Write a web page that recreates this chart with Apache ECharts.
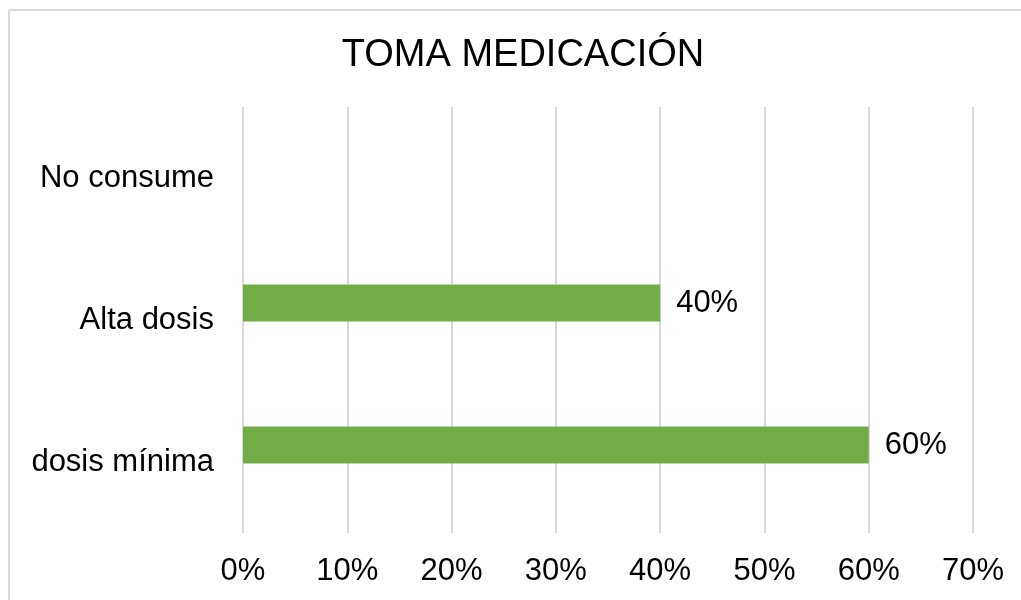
<!DOCTYPE html>
<html>
<head>
<meta charset="utf-8">
<script src="https://cdn.jsdelivr.net/npm/echarts@6/dist/echarts.min.js"></script>
<style>
  html, body { margin: 0; padding: 0; background: #fff; }
  #chart { width: 1021px; height: 600px; }
</style>
</head>
<body>
<div id="chart"></div>
<script>
// categorias (de abajo hacia arriba, como en el eje)
var categorias = ['dosis mínima', 'Alta dosis', 'No consume'];
// porcentaje que toma medicación
var porcentajes = [60, 40, '-'];
// serie vacía que ocupa el segundo hueco de cada grupo
var serieVacia = ['-', '-', '-'];
// marcas del eje x
var ejeMin = 0;
var ejeMax = 70;
var ejePaso = 10;

var chart = echarts.init(document.getElementById('chart'));
var fuente = 'Liberation Sans, Arial, sans-serif';

chart.setOption({
  animation: false,
  backgroundColor: '#fff',
  title: {
    text: 'TOMA MEDICACIÓN',
    left: 518,
    top: 32,
    textAlign: 'center',
    textStyle: { fontFamily: fuente, fontSize: 38, fontWeight: 'normal', color: '#000' }
  },
  // borde del área del gráfico (solo arriba e izquierda quedan a la vista)
  graphic: [{
    type: 'line',
    shape: { x1: 9, y1: 10, x2: 1021, y2: 10 },
    style: { stroke: '#d9d9d9', lineWidth: 2 },
    silent: true
  }, {
    type: 'line',
    shape: { x1: 9, y1: 10, x2: 9, y2: 600 },
    style: { stroke: '#d9d9d9', lineWidth: 2 },
    silent: true
  }],
  grid: { left: 243, right: 48, top: 107, bottom: 67 },
  xAxis: {
    type: 'value',
    min: ejeMin,
    max: ejeMax,
    interval: ejePaso,
    axisLine: { show: false },
    axisTick: { show: false },
    splitLine: { lineStyle: { color: '#d9d9d9', width: 2 } },
    axisLabel: {
      formatter: '{value}%',
      margin: 23,
      fontFamily: fuente,
      fontSize: 31,
      color: '#000'
    }
  },
  yAxis: {
    type: 'category',
    data: categorias,
    axisLine: { show: false },
    axisTick: { show: false },
    axisLabel: {
      margin: 29,
      padding: [5, 0, 0, 0],
      fontFamily: fuente,
      fontSize: 31,
      color: '#000'
    }
  },
  series: [{
    name: 'Toma medicación',
    type: 'bar',
    data: porcentajes,
    barWidth: 37,
    barGap: '-8%',
    itemStyle: { color: '#70ad47' },
    label: {
      show: true,
      position: 'right',
      distance: 16,
      formatter: '{c}%',
      fontFamily: fuente,
      fontSize: 31,
      color: '#000'
    }
  }, {
    name: 'vacía',
    type: 'bar',
    data: serieVacia,
    barWidth: 37,
    itemStyle: { color: '#70ad47' }
  }]
});
</script>
</body>
</html>
